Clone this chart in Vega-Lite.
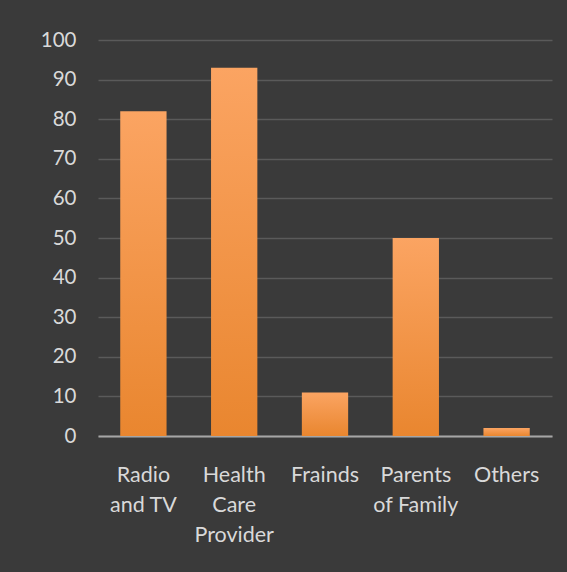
{
  "$schema": "https://vega.github.io/schema/vega-lite/v6.json",
  "width": 454,
  "height": 396,
  "autosize": {"type": "none"},
  "padding": {"left": 98, "top": 40, "right": 15, "bottom": 136},
  "background": "#3a3a3a",
  "config": {
    "view": {"stroke": null},
    "font": "Lato"
  },
  "data": {
    "values": [
      {"source": "Radio and TV", "value": 82},
      {"source": "Health Care Provider", "value": 93},
      {"source": "Frainds", "value": 11},
      {"source": "Parents of Family", "value": 50},
      {"source": "Others", "value": 2}
    ]
  },
  "mark": {
    "type": "bar",
    "fill": {
      "gradient": "linear",
      "x1": 0, "y1": 0, "x2": 0, "y2": 1,
      "stops": [
        {"offset": 0, "color": "#fba462"},
        {"offset": 1, "color": "#e9862f"}
      ]
    }
  },
  "encoding": {
    "x": {
      "field": "source",
      "type": "nominal",
      "sort": null,
      "scale": {"paddingInner": 0.49, "paddingOuter": 0.245},
      "axis": {
        "title": null,
        "labelAngle": 0,
        "labelFontSize": 21.5,
        "labelColor": "#d9d9d9",
        "labelBaseline": "top",
        "labelPadding": 28,
        "labelLineHeight": 30,
        "labelLimit": 200,
        "ticks": false,
        "domain": true,
        "domainColor": "#a6a6a6",
        "domainWidth": 2,
        "labelExpr": "datum.label == 'Radio and TV' ? ['Radio', 'and TV'] : datum.label == 'Health Care Provider' ? ['Health', 'Care', 'Provider'] : datum.label == 'Parents of Family' ? ['Parents', 'of Family'] : datum.label"
      }
    },
    "y": {
      "field": "value",
      "type": "quantitative",
      "scale": {"domain": [0, 100], "nice": false},
      "axis": {
        "title": null,
        "values": [0, 10, 20, 30, 40, 50, 60, 70, 80, 90, 100],
        "labelFontSize": 20.5,
        "labelColor": "#d9d9d9",
        "labelPadding": 22,
        "ticks": false,
        "domain": false,
        "gridColor": "#5a5a5a",
        "gridWidth": 1.5,
        "gridOpacity": 1
      }
    }
  }
}
